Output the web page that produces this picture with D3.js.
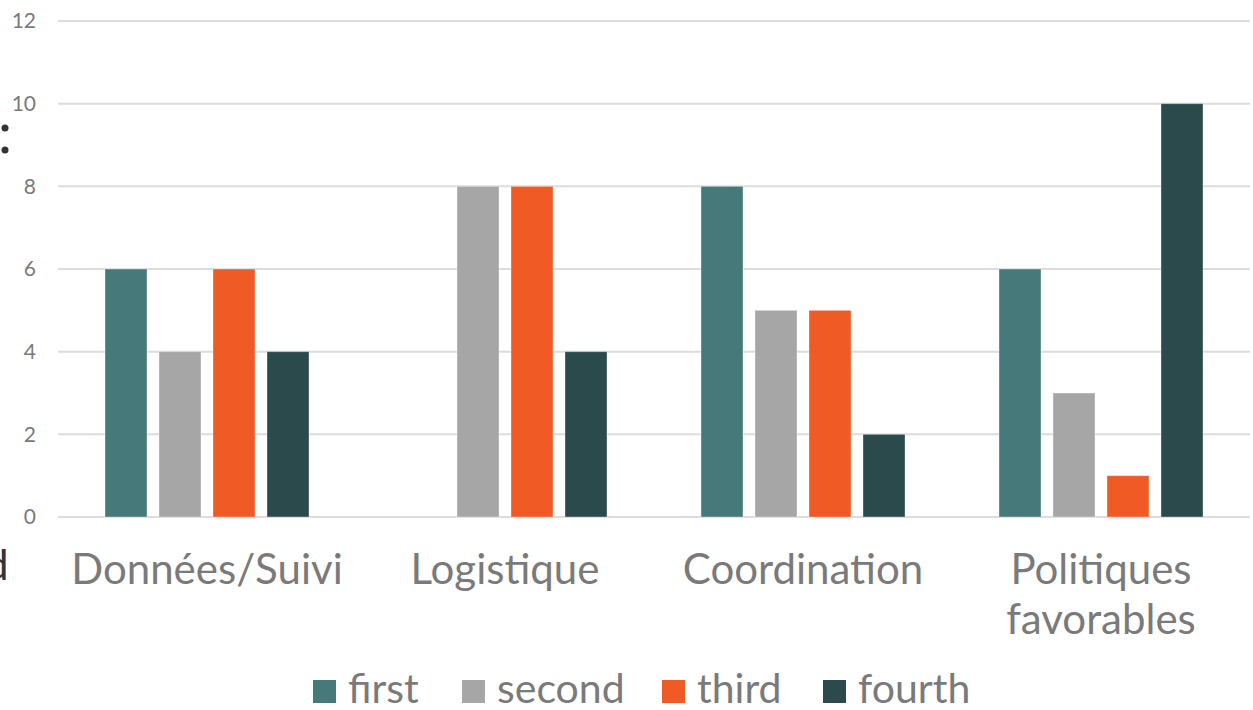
<!DOCTYPE html>
<html>
<head>
<meta charset="utf-8">
<script src="https://d3js.org/d3.v7.min.js"></script>
<style>
  body { margin: 0; background: #fff; }
  svg { display: block; }
</style>
</head>
<body>
<svg id="chart" width="1253" height="710"></svg>
<script>
// chart data
const categories = ["Données/Suivi", "Logistique", "Coordination", "Politiques favorables"];
const seriesNames = ["first", "second", "third", "fourth"];
const first = [6, 0, 8, 6];
const second = [4, 8, 5, 3];
const third = [6, 8, 5, 1];
const fourth = [4, 4, 2, 10];
const yTicks = [0, 2, 4, 6, 8, 10, 12];
const colors = ["#467a7a", "#a6a6a6", "#f05a24", "#2b4a4b"];

const values = [first, second, third, fourth];

const svg = d3.select("#chart");
const font = "Lato, 'Open Sans', sans-serif";
const grey = "#7a7a7a";

// scales
const x = d3.scaleBand()
    .domain(categories)
    .range([58, 1250])
    .padding(0);

// 42px bars, 12px gaps inside a 298px band
const xSub = d3.scaleBand()
    .domain(seriesNames)
    .range([0, x.bandwidth()])
    .paddingInner(12 / 54)
    .paddingOuter((x.bandwidth() / 54 - 4 + 12 / 54) / 2);

const y = d3.scaleLinear()
    .domain([0, 12])
    .range([517, 21]);

// gridlines
svg.append("g")
    .selectAll("line")
    .data(yTicks)
    .join("line")
    .attr("x1", 58)
    .attr("x2", 1250)
    .attr("y1", d => y(d))
    .attr("y2", d => y(d))
    .attr("stroke", "#dcdcdc")
    .attr("stroke-width", 2);

// y axis labels
svg.append("g")
    .selectAll("text")
    .data(yTicks)
    .join("text")
    .attr("x", 36)
    .attr("y", d => y(d))
    .attr("dy", "0.35em")
    .attr("text-anchor", "end")
    .attr("font-family", font)
    .attr("font-size", 21)
    .attr("fill", grey)
    .text(d => d);

// bars
const groups = svg.append("g")
    .selectAll("g")
    .data(categories)
    .join("g")
    .attr("transform", d => "translate(" + x(d) + ",0)");

groups.selectAll("rect")
    .data((c, ci) => seriesNames.map((s, si) => ({ s: s, si: si, v: values[si][ci] })))
    .join("rect")
    .filter(d => d.v > 0)
    .attr("x", d => xSub(d.s))
    .attr("width", xSub.bandwidth())
    .attr("y", d => y(d.v))
    .attr("height", d => y(0) - y(d.v))
    .attr("fill", d => colors[d.si])
    .attr("stroke", "rgba(255,255,255,0.35)")
    .attr("stroke-width", 1);

// category labels
const catLabels = svg.append("g")
    .selectAll("text")
    .data(categories)
    .join("text")
    .attr("x", d => x(d) + x.bandwidth() / 2)
    .attr("y", 584)
    .attr("text-anchor", "middle")
    .attr("font-family", font)
    .attr("font-size", 42)
    .attr("fill", grey);

catLabels.each(function (d) {
    const t = d3.select(this);
    const lines = d === "Politiques favorables" ? ["Politiques", "favorables"] : [d];
    lines.forEach((l, i) => {
        t.append("tspan")
            .attr("x", x(d) + x.bandwidth() / 2)
            .attr("dy", i === 0 ? 0 : 50)
            .text(l);
    });
});

// legend
const legendX = [313, 462, 662, 823];
const legend = svg.append("g")
    .selectAll("g")
    .data(seriesNames)
    .join("g")
    .attr("transform", (d, i) => "translate(" + legendX[i] + ",680)");

legend.append("rect")
    .attr("width", 23)
    .attr("height", 23)
    .attr("fill", (d, i) => colors[i]);

legend.append("text")
    .attr("x", 35)
    .attr("y", 23)
    .attr("font-family", font)
    .attr("font-size", 41)
    .attr("fill", grey)
    .text(d => d);

// cropped fragments at the left edge of the slide
svg.append("g")
    .selectAll("circle")
    .data([128, 150])
    .join("circle")
    .attr("cx", 5)
    .attr("cy", d => d)
    .attr("r", 3.5)
    .attr("fill", "#333");

svg.append("text")
    .attr("x", -15)
    .attr("y", 580)
    .attr("font-family", font)
    .attr("font-size", 42)
    .attr("fill", "#333")
    .text("d");
</script>
</body>
</html>
